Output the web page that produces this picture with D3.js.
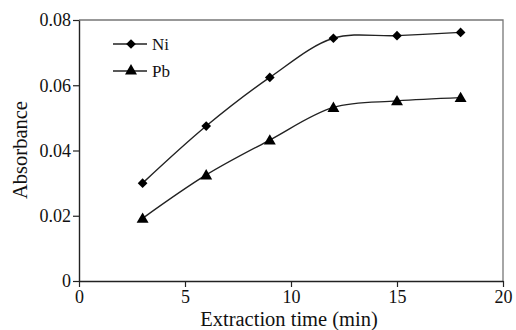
<!DOCTYPE html>
<html><head><meta charset="utf-8">
<script src="https://cdn.jsdelivr.net/npm/d3@7"></script>
<style>body{margin:0;background:#fff}svg{display:block}text{font-family:"Liberation Serif","Times New Roman",serif;fill:#111}</style>
</head><body><svg id="c" width="516" height="330"></svg>
<script>
const times = [3, 6, 9, 12, 15, 18];
const ni = [0.030, 0.0475, 0.0624, 0.0744, 0.0752, 0.0762];
const pb = [0.0192, 0.0325, 0.0432, 0.0532, 0.0552, 0.0562];
const xTicks = [0, 5, 10, 15, 20];
const yTicks = [0, 0.02, 0.04, 0.06, 0.08];
const seriesNames = ["Ni", "Pb"];

const svg = d3.select("#c");
const m = {l: 79, r: 13, t: 20, b: 49};
const W = 516, H = 330;
const x = d3.scaleLinear().domain([0, 20]).range([m.l, W - m.r]);
const y = d3.scaleLinear().domain([0, 0.08]).range([H - m.b, m.t]);

// frame top/right
svg.append("path")
  .attr("d", `M${x(0)},${y(0.08)}H${x(20)}V${y(0)}`)
  .attr("fill", "none").attr("stroke", "#777").attr("stroke-width", 1.3);

const fmtY = d => d === 0 ? "0" : d3.format(".2f")(d);
const gx = svg.append("g").attr("transform", `translate(0,${y(0)})`)
  .call(d3.axisBottom(x).tickValues(xTicks).tickSize(6).tickSizeOuter(0).tickPadding(3));
const gy = svg.append("g").attr("transform", `translate(${x(0)},0)`)
  .call(d3.axisLeft(y).tickValues(yTicks).tickFormat(fmtY).tickSize(6).tickSizeOuter(0).tickPadding(2));
[gx, gy].forEach(g => {
  g.select(".domain").attr("stroke", "#222").attr("stroke-width", 1.4);
  g.selectAll(".tick line").attr("stroke", "#222").attr("stroke-width", 1.2);
  g.selectAll(".tick text").attr("font-family", "Liberation Serif").attr("font-size", 18).attr("fill", "#111");
});

svg.append("text").attr("x", 289).attr("y", 326).attr("text-anchor", "middle")
  .attr("font-size", 20.5).text("Extraction time (min)");
svg.append("text").attr("transform", "translate(27,150) rotate(-90)").attr("text-anchor", "middle")
  .attr("font-size", 20.5).text("Absorbance");

const line = d3.line().curve(d3.curveCatmullRom.alpha(0.5)).x(d => x(d[0])).y(d => y(d[1]));
const sets = [times.map((t, i) => [t, ni[i]]), times.map((t, i) => [t, pb[i]])];
const symbols = [d3.symbol().type(d3.symbolDiamond2).size(60), d3.symbol().type(d3.symbolTriangle).size(62)];

sets.forEach((s, k) => {
  svg.append("path").attr("d", line(s)).attr("fill", "none").attr("stroke", "#222").attr("stroke-width", 1.4);
  svg.selectAll(null).data(s).enter().append("path")
    .attr("transform", d => `translate(${x(d[0])},${y(d[1]) + (k === 1 ? 1 : 0)})`)
    .attr("d", symbols[k]()).attr("fill", "#000");
});

// legend
const lg = svg.append("g");
seriesNames.forEach((n, k) => {
  const yy = 44 + k * 27;
  lg.append("line").attr("x1", 113).attr("x2", 147).attr("y1", yy).attr("y2", yy).attr("stroke", "#222").attr("stroke-width", 1.4);
  lg.append("path").attr("transform", `translate(131,${yy + (k === 1 ? 0 : 0)})`).attr("d", symbols[k]()).attr("fill", "#000");
  lg.append("text").attr("x", 152).attr("y", yy + 6).attr("font-size", 17).text(n);
});
</script></body></html>
